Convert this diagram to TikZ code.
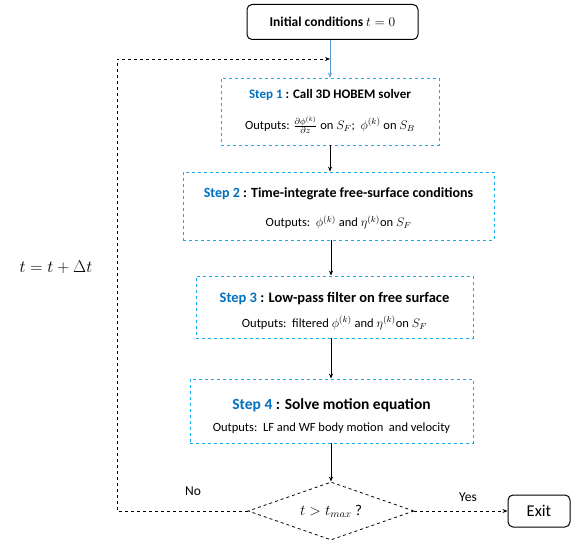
\RequirePackage{fix-cm}
\documentclass[tikz,border=0pt]{standalone}
\usepackage{fontspec}
\setmainfont{Carlito}
\usetikzlibrary{shapes.geometric,arrows.meta}

\definecolor{stepblue}{RGB}{0,112,192}
\definecolor{boxblue}{RGB}{20,170,235}
\definecolor{linkblue}{RGB}{91,155,213}

\tikzset{
  stepbox/.style={draw=boxblue, thick, dashed, inner sep=0pt, align=center},
  roundbox/.style={draw, rounded corners=5pt, line width=1pt},
  flow/.style={-{Stealth[length=5pt,width=4pt]}, thick},
  backloop/.style={dashed, thick, -{Stealth[length=5pt,width=4pt]}}
}

% title line and output line of a step box
\newcommand{\steptitle}[3]{{\fontsize{#1}{#1}\selectfont\bfseries\textcolor{stepblue}{Step #2} : #3}}
\newcommand{\stepout}[1]{{\fontsize{12.5}{14}\selectfont #1}}

\begin{document}
\begin{tikzpicture}[x=1pt, y=1pt]
\useasboundingbox (0,0) rectangle (579,542);

\node[roundbox, minimum width=171pt, minimum height=35pt, font=\fontsize{13.5}{15}\selectfont\bfseries]
  (init) at (332.5,520) {Initial conditions $t=0$};

\node[stepbox, minimum width=218pt, minimum height=67pt] (step1) at (330,430.5)
  {\steptitle{13}{1}{Call 3D HOBEM solver}\\[15pt]
   \stepout{Outputs: $\frac{\partial\phi^{(k)}}{\partial z}$ on $S_F$;\ \ $\phi^{(k)}$ on $S_B$}};

\node[stepbox, minimum width=311pt, minimum height=68pt] (step2) at (338.5,336)
  {\rule{0pt}{14.5pt}\steptitle{14}{2}{Time-integrate free-surface conditions}\\[15pt]
   \stepout{Outputs:\ \ $\phi^{(k)}$ and $\eta^{(k)}$on $S_F$}};

\node[stepbox, minimum width=277pt, minimum height=62pt] (step3) at (334.5,235)
  {\rule{0pt}{18pt}\steptitle{14.5}{3}{Low-pass filter on free surface}\\[11pt]
   \stepout{Outputs:\ \ filtered $\phi^{(k)}$ and $\eta^{(k)}$on $S_F$}};

\node[stepbox, minimum width=283pt, minimum height=64pt] (step4) at (331.5,131)
  {\rule{0pt}{21pt}\steptitle{15.5}{4}{Solve motion equation}\\[10pt]
   \stepout{Outputs:\ \ LF and WF body motion\ \ and velocity}};

\node[draw, dashed, thick, diamond, aspect=2.86, minimum width=166pt, minimum height=58pt, inner sep=0pt,
  font=\fontsize{15}{17}\selectfont] (cond) at (331,31) {$t>t_{max}$ ?};

\node[roundbox, minimum width=62pt, minimum height=32pt, font=\fontsize{16.5}{18}\selectfont]
  (exit) at (539,31) {Exit};

\node[font=\fontsize{13.5}{15}\selectfont] (no) at (193,51) {No};
\node[font=\fontsize{13.5}{15}\selectfont] (yes) at (468,45) {Yes};
\node[font=\fontsize{17}{19}\selectfont] (incr) at (56,275) {$t=t+\Delta t$};

% main chain
\draw[flow, draw=linkblue, thin] (init.south -| step1.north) -- (step1.north);
\draw[flow] (step1.south) -- (step1.south |- step2.north);
\draw[flow] (step2.south -| cond.north) -- (step3.north -| cond.north);
\draw[flow] (step3.south -| cond.north) -- (step4.north -| cond.north);
\draw[flow] (step4.south -| cond.north) -- (cond.north);

% decision
\coordinate (back) at (117,483);
\draw[backloop] (cond.west) -| (back) -- (back -| step1.north);
\draw[backloop] (cond.east) -- (exit.west);
\end{tikzpicture}
\end{document}
